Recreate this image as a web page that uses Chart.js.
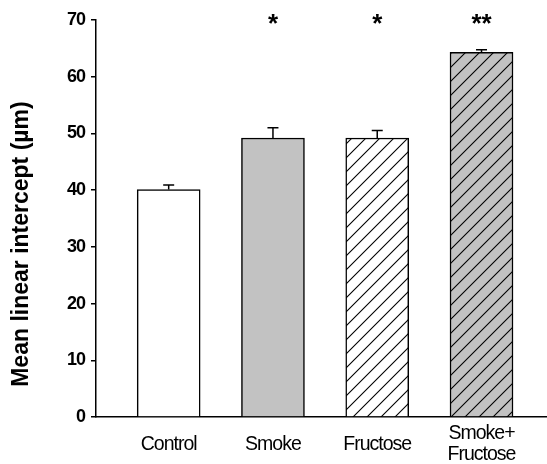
<!DOCTYPE html>
<html>
<head>
<meta charset="utf-8">
<script src="https://cdn.jsdelivr.net/npm/chart.js@4/dist/chart.umd.min.js"></script>
<style>
  html, body { margin: 0; padding: 0; background: #fff; }
  #wrap { width: 547px; height: 464px; position: relative; }
</style>
</head>
<body>
<div id="wrap"><canvas id="c" width="547" height="464"></canvas></div>
<script>
// Group names, mean values (µm), upward error (SEM) and significance marks
const categories = ['Control', 'Smoke', 'Fructose', ['Smoke+', 'Fructose']];
const means = [40.1, 49.2, 49.2, 64.3];
const errors = [0.8, 1.8, 1.3, 0.45];
const significance = ['', '*', '*', '**'];
const yTicks = [0, 10, 20, 30, 40, 50, 60, 70];

const GRAY = '#c2c2c2';
const FONT = "'Liberation Sans', Arial, sans-serif";

// Diagonal hatch pattern ("/" lines) over a given background
function hatch(bg) {
  const s = 14;
  const c = document.createElement('canvas');
  c.width = s; c.height = s;
  const g = c.getContext('2d');
  g.fillStyle = bg;
  g.fillRect(0, 0, s, s);
  g.strokeStyle = '#000';
  g.lineWidth = 1.1;
  g.beginPath();
  g.moveTo(-1, s + 1); g.lineTo(s + 1, -1);
  g.moveTo(-1, 1); g.lineTo(1, -1);
  g.moveTo(s - 1, s + 1); g.lineTo(s + 1, s - 1);
  g.stroke();
  return g.createPattern(c, 'repeat');
}

const fills = ['#ffffff', GRAY, hatch('#ffffff'), hatch(GRAY)];

// Error bars (upper only), significance stars, and tight spacing for tick labels
const annotations = {
  id: 'annotations',
  beforeDraw(chart) {
    chart.ctx.letterSpacing = '0px';
  },
  afterDatasetsDraw(chart) {
    const { ctx, scales: { x, y } } = chart;
    ctx.save();
    ctx.strokeStyle = '#000';
    ctx.lineWidth = 1.5;
    means.forEach((m, i) => {
      const px = x.getPixelForValue(i + 1);
      const top = y.getPixelForValue(m);
      const end = y.getPixelForValue(m + errors[i]);
      ctx.beginPath();
      ctx.moveTo(px, top);
      ctx.lineTo(px, end);
      ctx.moveTo(px - 5.5, end);
      ctx.lineTo(px + 5.5, end);
      ctx.stroke();
    });
    ctx.fillStyle = '#000';
    ctx.font = "bold 26px 'Liberation Sans', Arial, sans-serif";
    ctx.textAlign = 'center';
    ctx.textBaseline = 'alphabetic';
    significance.forEach((s, i) => {
      if (!s) return;
      ctx.fillText(s, x.getPixelForValue(i + 1), y.getPixelForValue(70) + 12);
    });
    ctx.restore();
    // tick labels are drawn after this hook (ticks.z = 1)
    ctx.letterSpacing = '-1px';
  },
  afterDraw(chart) {
    chart.ctx.letterSpacing = '0px';
  }
};

new Chart(document.getElementById('c'), {
  type: 'bar',
  data: {
    datasets: [{
      data: means.map((m, i) => ({ x: i + 1, y: m })),
      backgroundColor: fills,
      borderColor: '#000',
      borderWidth: 1.5,
      borderSkipped: 'bottom',
      barThickness: 63
    }]
  },
  options: {
    responsive: false,
    animation: false,
    devicePixelRatio: 1,
    layout: { padding: { top: 20, right: 0, left: 0, bottom: 0 } },
    plugins: { legend: { display: false }, tooltip: { enabled: false } },
    scales: {
      x: {
        type: 'linear',
        offset: false,
        min: 0.303,
        max: 4.628,
        afterBuildTicks: s => { s.ticks = categories.map((_, i) => ({ value: i + 1 })); },
        afterFit: s => { s.height = 47; },
        grid: { display: false, offset: false },
        border: { display: true, color: '#000', width: 1.5 },
        ticks: {
          z: 1,
          callback: v => categories[v - 1],
          color: '#000',
          padding: 9,
          maxRotation: 0,
          autoSkip: false,
          crossAlign: 'center',
          font: { family: FONT, size: 19.5, lineHeight: 1.05 }
        }
      },
      y: {
        min: 0,
        max: 70,
        afterBuildTicks: s => { s.ticks = yTicks.map(v => ({ value: v })); },
        afterFit: s => { s.width = 96; },
        grid: { drawOnChartArea: false, drawTicks: true, tickLength: 5, color: '#000', lineWidth: 1.5 },
        border: { display: true, color: '#000', width: 1.5 },
        ticks: {
          z: 1,
          color: '#000',
          padding: 6,
          font: { family: FONT, size: 18, weight: 'bold' }
        },
        title: {
          display: true,
          text: 'Mean linear intercept (µm)\u00A0\u00A0\u00A0\u00A0\u00A0\u00A0\u00A0\u00A0',
          color: '#000',
          padding: { top: 10, bottom: 0 },
          font: { family: FONT, size: 23, weight: 'bold', lineHeight: 1 }
        }
      }
    }
  },
  plugins: [annotations]
});
</script>
</body>
</html>
